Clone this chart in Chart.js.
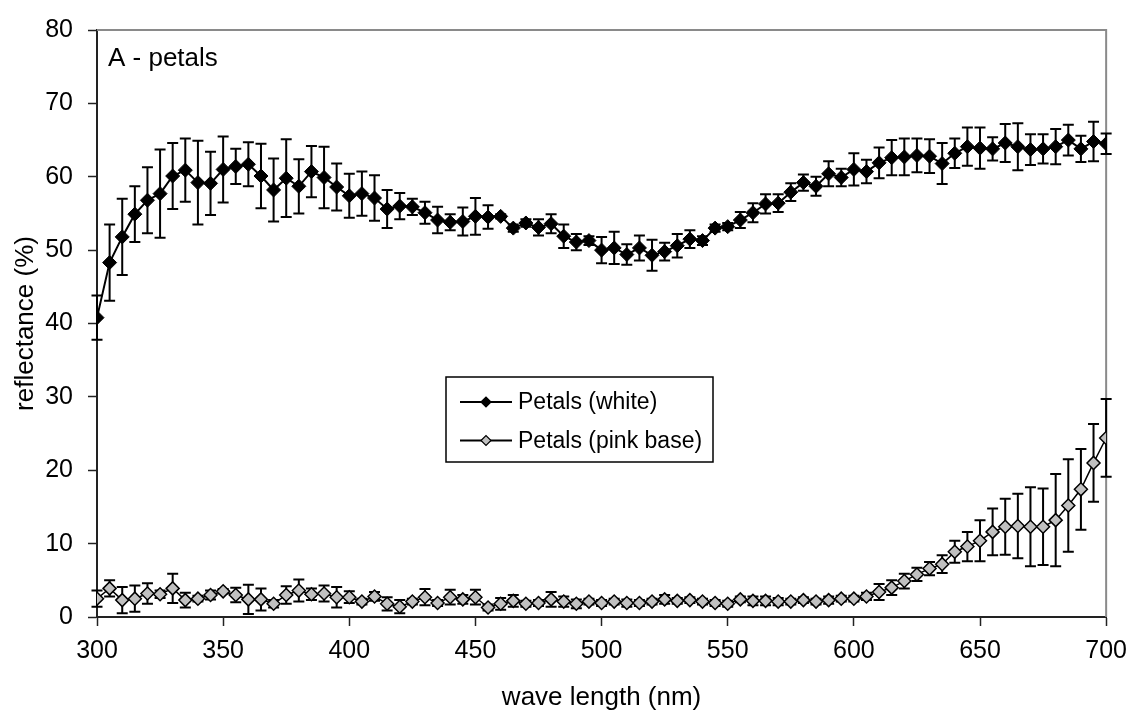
<!DOCTYPE html>
<html>
<head>
<meta charset="utf-8">
<title>A - petals</title>
<script src="https://cdn.jsdelivr.net/npm/chart.js@4/dist/chart.umd.min.js"></script>
<style>
	html, body { margin: 0; padding: 0; background: #fff; }
	#petals-chart { display: block; }
</style>
</head>
<body>
<canvas id="petals-chart" width="1137" height="713"></canvas>
<script>
//Data
var wavelengths = [300, 305, 310, 315, 320, 325, 330, 335, 340, 345, 350, 355, 360, 365, 370, 375, 380, 385, 390, 395,
	400, 405, 410, 415, 420, 425, 430, 435, 440, 445, 450, 455, 460, 465, 470, 475, 480, 485, 490, 495,
	500, 505, 510, 515, 520, 525, 530, 535, 540, 545, 550, 555, 560, 565, 570, 575, 580, 585, 590, 595,
	600, 605, 610, 615, 620, 625, 630, 635, 640, 645, 650, 655, 660, 665, 670, 675, 680, 685, 690, 695, 700];

var whiteMean = [40.8, 48.3, 51.8, 54.9, 56.8, 57.7, 60.1, 60.9, 59.2, 59.1, 61.0, 61.4, 61.7, 60.1, 58.2, 59.8, 58.7, 60.7, 59.9, 58.6,
	57.4, 57.7, 57.1, 55.6, 56.0, 55.9, 55.1, 54.1, 53.8, 53.9, 54.6, 54.5, 54.6, 53.0, 53.7, 53.1, 53.6, 51.9, 51.1, 51.3,
	50.0, 50.3, 49.4, 50.3, 49.3, 49.8, 50.6, 51.5, 51.3, 53.0, 53.2, 54.1, 55.1, 56.3, 56.4, 57.9, 59.2, 58.7, 60.4, 59.9,
	61.0, 60.7, 61.9, 62.6, 62.7, 62.9, 62.8, 61.8, 63.2, 64.1, 63.9, 63.8, 64.6, 64.1, 63.7, 63.8, 64.1, 65.0, 63.8, 64.8, 64.5];
var whiteErr = [3.0, 5.2, 5.2, 3.8, 4.5, 6.0, 4.5, 4.3, 5.7, 4.3, 4.5, 2.4, 3.0, 4.4, 4.3, 5.3, 3.7, 3.5, 4.2, 3.2,
	3.0, 3.0, 3.1, 2.6, 1.8, 1.1, 1.5, 1.8, 1.1, 1.9, 2.5, 1.6, 0.3, 0.5, 0.5, 1.1, 1.3, 1.6, 1.1, 0.6,
	1.8, 2.2, 1.4, 1.7, 2.1, 1.2, 1.6, 1.2, 0.6, 0.5, 0.5, 1.1, 1.3, 1.3, 1.2, 1.2, 1.1, 1.3, 1.7, 1.2,
	2.2, 1.6, 2.1, 2.4, 2.5, 2.3, 2.3, 2.8, 2.0, 2.6, 2.8, 1.6, 2.6, 3.2, 2.1, 2.0, 2.4, 2.1, 1.8, 2.7, 1.4];

var pinkMean = [2.5, 3.9, 2.3, 2.5, 3.2, 3.1, 3.9, 2.3, 2.5, 3.0, 3.5, 3.0, 2.4, 2.4, 1.8, 3.0, 3.6, 3.1, 3.2, 2.7,
	2.7, 2.1, 2.8, 1.8, 1.4, 2.1, 2.7, 1.9, 2.7, 2.4, 2.7, 1.3, 1.8, 2.2, 1.8, 1.9, 2.4, 2.1, 1.8, 2.1,
	1.9, 2.1, 1.9, 1.9, 2.1, 2.4, 2.2, 2.3, 2.1, 1.9, 1.8, 2.4, 2.2, 2.2, 2.1, 2.1, 2.3, 2.1, 2.3, 2.5,
	2.5, 2.8, 3.4, 4.0, 4.9, 5.8, 6.6, 7.2, 8.9, 9.6, 10.4, 11.6, 12.3, 12.4, 12.3, 12.3, 13.2, 15.2, 17.4, 21.0, 24.4];
var pinkErr = [1.1, 1.1, 1.8, 1.8, 1.4, 0.5, 2.0, 1.0, 0.4, 0.6, 0.3, 1.0, 2.0, 1.5, 0.5, 1.2, 1.5, 0.8, 1.1, 1.4,
	0.8, 0.4, 0.6, 0.9, 0.9, 0.4, 1.1, 0.4, 1.0, 0.6, 1.0, 0.4, 0.8, 0.8, 0.4, 0.4, 1.0, 0.7, 0.6, 0.4,
	0.4, 0.4, 0.5, 0.4, 0.4, 0.6, 0.4, 0.4, 0.4, 0.4, 0.4, 0.4, 0.6, 0.6, 0.5, 0.4, 0.4, 0.4, 0.5, 0.4,
	0.4, 0.5, 1.1, 1.0, 1.0, 0.9, 0.9, 1.2, 1.5, 2.0, 2.8, 3.2, 3.8, 4.4, 5.4, 5.2, 6.3, 6.3, 5.5, 5.3, 5.3];

var xTicks = { min: 300, max: 700, step: 50 };
var yTicks = { min: 0, max: 80, step: 10 };

var FONT = "'Liberation Sans', Arial, sans-serif";

var PetalsChart = function () { };

//Static Init
PetalsChart.Init = function () {
	var chart = new PetalsChart();
	chart.Init(document.getElementById("petals-chart"));
};
//Public
PetalsChart.prototype.Init = function (canvas) {
	this._canvas = canvas;
	this._render();
};
//Internal
PetalsChart.prototype._points = function (values) {
	var pts = [];
	for (var i = 0; i < wavelengths.length; i++) {
		pts.push({ x: wavelengths[i], y: values[i] });
	}
	return pts;
};
PetalsChart.prototype._render = function () {
	this._chart = new Chart(this._canvas, {
		type: 'line',
		data: {
			datasets: [{
				label: 'Petals (white)',
				data: this._points(whiteMean),
				errors: whiteErr,
				borderColor: '#000',
				borderWidth: 2,
				pointStyle: 'rectRot',
				pointRadius: 7,
				pointBackgroundColor: '#000',
				pointBorderColor: '#000',
				pointBorderWidth: 1,
				tension: 0
			}, {
				label: 'Petals (pink base)',
				data: this._points(pinkMean),
				errors: pinkErr,
				borderColor: '#000',
				borderWidth: 1.5,
				pointStyle: 'rectRot',
				pointRadius: 6.5,
				pointBackgroundColor: '#c0c0c0',
				pointBorderColor: '#000',
				pointBorderWidth: 1.5,
				tension: 0
			}]
		},
		options: this._getChartParams(),
		plugins: [this._frame(), this._errorBars(), this._panelLabel(), this._legendBox()]
	});
};
PetalsChart.prototype._getChartParams = function () {
	return {
		responsive: false,
		animation: false,
		layout: {
			padding: { top: 23, right: 28, left: 0, bottom: 0 }
		},
		plugins: {
			legend: { display: false },
			tooltip: { enabled: false }
		},
		scales: {
			x: {
				type: 'linear',
				min: xTicks.min,
				max: xTicks.max,
				ticks: {
					stepSize: xTicks.step,
					color: '#000',
					padding: 10,
					font: { family: FONT, size: 25 }
				},
				grid: {
					drawOnChartArea: false,
					tickLength: 9,
					tickColor: '#222',
					tickWidth: 1.5
				},
				border: { color: '#222', width: 2 },
				title: {
					display: true,
					text: 'wave length (nm)',
					color: '#000',
					font: { family: FONT, size: 26 },
					padding: { top: 0, bottom: 0 }
				},
				afterFit: function (scale) { scale.height = 96; }
			},
			y: {
				min: yTicks.min,
				max: yTicks.max,
				ticks: {
					stepSize: yTicks.step,
					color: '#000',
					padding: 15,
					font: { family: FONT, size: 25 }
				},
				grid: {
					drawOnChartArea: false,
					tickLength: 9,
					tickColor: '#222',
					tickWidth: 1.5
				},
				border: { color: '#222', width: 2 },
				title: {
					display: true,
					text: 'reflectance (%)',
					color: '#000',
					font: { family: FONT, size: 26 },
					padding: { top: 10, bottom: 0 }
				},
				afterFit: function (scale) { scale.width = 97; }
			}
		}
	};
};
//grey top and right edge of the plot area
PetalsChart.prototype._frame = function () {
	return {
		id: 'frame',
		beforeDatasetsDraw: function (chart) {
			var ctx = chart.ctx, a = chart.chartArea;
			ctx.save();
			ctx.strokeStyle = '#8a8a8a';
			ctx.lineWidth = 2;
			ctx.beginPath();
			ctx.moveTo(a.left, a.top);
			ctx.lineTo(a.right, a.top);
			ctx.lineTo(a.right, a.bottom);
			ctx.stroke();
			ctx.restore();
		}
	};
};
//vertical +/- bars with caps, under the markers
PetalsChart.prototype._errorBars = function () {
	return {
		id: 'errorBars',
		beforeDatasetsDraw: function (chart) {
			var ctx = chart.ctx, yScale = chart.scales.y;
			ctx.save();
			ctx.strokeStyle = '#000';
			ctx.lineWidth = 2;
			chart.data.datasets.forEach(function (ds, di) {
				var meta = chart.getDatasetMeta(di);
				meta.data.forEach(function (pt, i) {
					var v = ds.data[i].y, e = ds.errors[i];
					var top = yScale.getPixelForValue(v + e);
					var bot = yScale.getPixelForValue(v - e);
					ctx.beginPath();
					ctx.moveTo(pt.x, top);
					ctx.lineTo(pt.x, bot);
					ctx.moveTo(pt.x - 5.5, top);
					ctx.lineTo(pt.x + 5.5, top);
					ctx.moveTo(pt.x - 5.5, bot);
					ctx.lineTo(pt.x + 5.5, bot);
					ctx.stroke();
				});
			});
			ctx.restore();
		}
	};
};
PetalsChart.prototype._panelLabel = function () {
	return {
		id: 'panelLabel',
		afterDraw: function (chart) {
			var ctx = chart.ctx;
			ctx.save();
			ctx.fillStyle = '#000';
			ctx.font = "26px " + FONT;
			ctx.textBaseline = 'alphabetic';
			ctx.fillText('A - petals', 108, 66);
			ctx.restore();
		}
	};
};
//boxed legend in the middle of the plot
PetalsChart.prototype._legendBox = function () {
	return {
		id: 'legendBox',
		afterDraw: function (chart) {
			var ctx = chart.ctx;
			var box = { x: 446, y: 377, w: 267, h: 85 };
			ctx.save();
			ctx.fillStyle = '#fff';
			ctx.fillRect(box.x, box.y, box.w, box.h);
			ctx.strokeStyle = '#000';
			ctx.lineWidth = 1.5;
			ctx.strokeRect(box.x, box.y, box.w, box.h);
			chart.data.datasets.forEach(function (ds, i) {
				var cy = 402 + i * 38.5;
				ctx.strokeStyle = ds.borderColor;
				ctx.lineWidth = 2;
				ctx.beginPath();
				ctx.moveTo(460, cy);
				ctx.lineTo(512, cy);
				ctx.stroke();
				ctx.fillStyle = ds.pointBackgroundColor;
				ctx.strokeStyle = ds.pointBorderColor;
				ctx.lineWidth = 1.2;
				Chart.helpers.drawPoint(ctx, { pointStyle: 'rectRot', radius: 5, borderWidth: 1.2 }, 486, cy);
				ctx.fillStyle = '#000';
				ctx.font = "23px " + FONT;
				ctx.textBaseline = 'middle';
				ctx.fillText(ds.label, 518, cy + 1);
			});
			ctx.restore();
		}
	};
};
//Global Instantiation
PetalsChart.Init();
</script>
</body>
</html>
